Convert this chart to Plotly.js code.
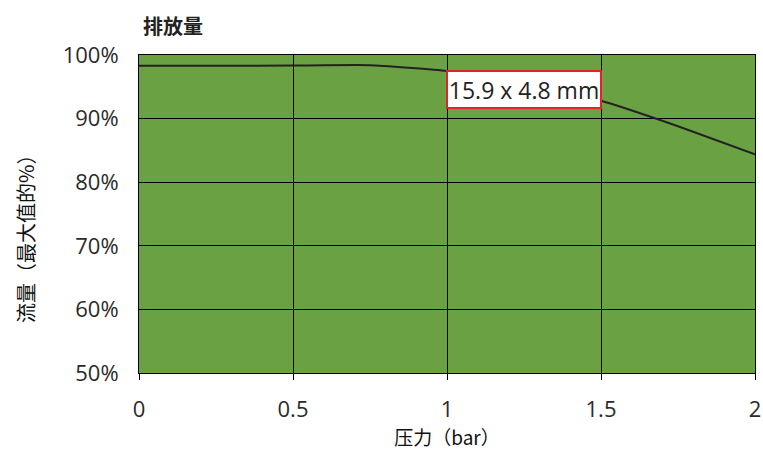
<!DOCTYPE html>
<html>
<head>
<meta charset="utf-8">
<script src="https://cdn.plot.ly/plotly-3.0.1.min.js"></script>
<style>html,body{margin:0;padding:0;background:#fff;}#chart{width:763px;height:452px;}</style>
</head>
<body>
<div id="chart"></div>
<script>
const pressure = [0, 0.25, 0.5, 0.75, 1.0, 1.25, 1.5, 1.75, 2.0];
const flowPct = [98.3, 98.3, 98.35, 98.4, 97.5, 95.4, 92.8, 88.8, 84.4];
const xTicks = [0, 0.5, 1, 1.5, 2];
const xTickText = ['0', '0.5', '1', '1.5', '2'];
const yTicks = [50, 60, 70, 80, 90, 100];
const yTickText = ['50%', '60%', '70%', '80%', '90%', '100%'];
const labelText = '15.9 x 4.8 mm';
const yTitleText = '流量（最大值的%）';

const font = 'Open Sans, Noto Sans, sans-serif';
const cjk = 'Noto Sans CJK SC, sans-serif';

const trace = {
  x: pressure, y: flowPct, type: 'scatter', mode: 'lines',
  line: {color: '#222222', width: 2, shape: 'spline', smoothing: 0.4},
  hoverinfo: 'none', showlegend: false
};

const layout = {
  width: 763, height: 452,
  margin: {l: 139, r: 8, t: 55, b: 79},
  paper_bgcolor: '#ffffff',
  plot_bgcolor: '#69a143',
  font: {family: font, color: '#333333', size: 22},
  title: {text: '排放量', font: {family: cjk, size: 20, color: '#222', weight: 'bold'},
    xref: 'container', x: 143/763, xanchor: 'left', yref: 'container', y: 1 - 26.5/452, yanchor: 'middle'},
  xaxis: {
    range: [0, 2], tickvals: xTicks, ticktext: xTickText,
    showgrid: true, gridcolor: '#000000', gridwidth: 1,
    showline: true, linecolor: '#000000', linewidth: 1, mirror: true,
    ticks: 'outside', ticklen: 6, tickcolor: '#000', tickwidth: 1,
    ticklabelstandoff: 11, zeroline: false,
    tickfont: {family: font, size: 22, color: '#2a2a2a'},
    title: {text: '压力（bar）', font: {family: cjk, size: 19, color: '#111'}, standoff: 2}
  },
  yaxis: {
    range: [50, 100], tickvals: yTicks, ticktext: yTickText,
    showgrid: true, gridcolor: '#000000', gridwidth: 1,
    showline: true, linecolor: '#000000', linewidth: 1, mirror: true,
    ticks: '', ticklabelstandoff: 15, zeroline: false,
    tickfont: {family: font, size: 22, color: '#2a2a2a'}
  },
  annotations: [{
    x: 1.25, y: 94.6, xref: 'x', yref: 'y', text: labelText, showarrow: false,
    font: {family: font, size: 23, color: '#222'},
    bgcolor: '#ffffff', bordercolor: '#e8202a', borderwidth: 2, borderpad: 1,
    width: 150, height: 33, xanchor: 'center', yanchor: 'middle'
  }, {
    xref: 'paper', yref: 'paper', x: -(139 - 25) / 616, y: (373 - 234) / 318,
    text: yTitleText, textangle: -90, showarrow: false,
    font: {family: cjk, size: 20, color: '#111'},
    xanchor: 'center', yanchor: 'middle'
  }]
};

Plotly.newPlot('chart', [trace], layout, {displayModeBar: false, staticPlot: true});
</script>
</body>
</html>
